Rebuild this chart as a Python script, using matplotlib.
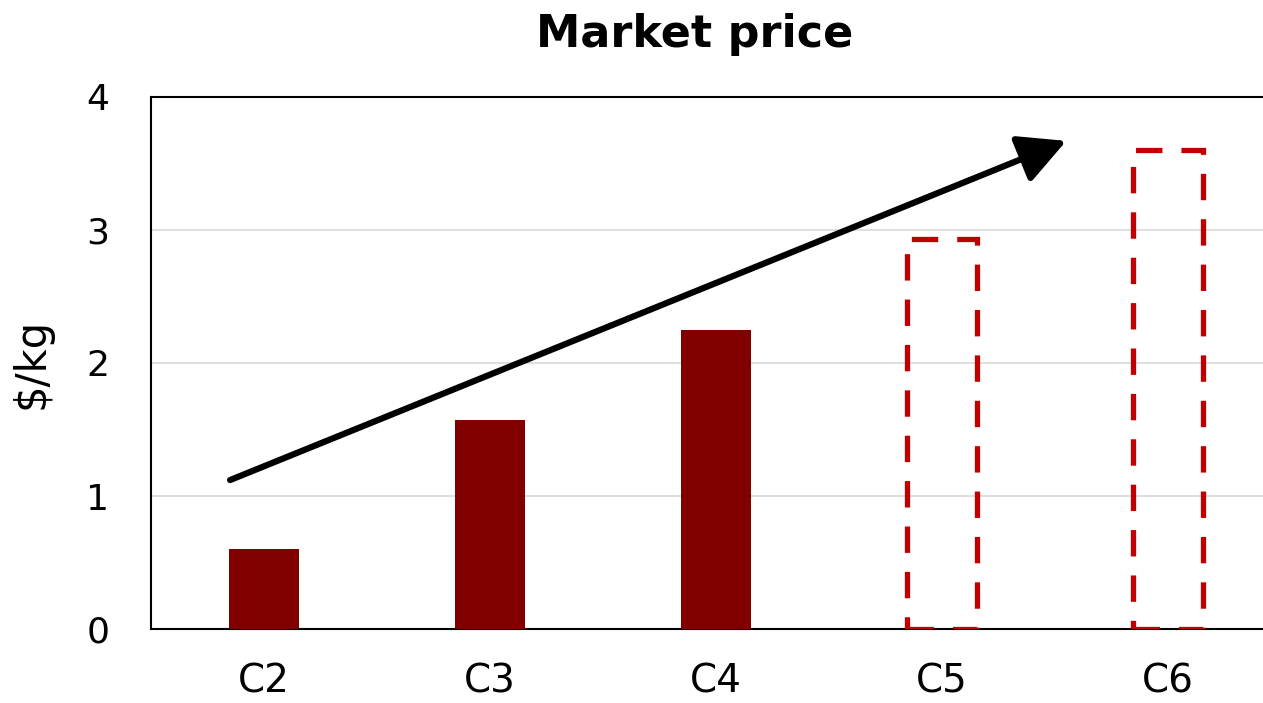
from matplotlib import pyplot as plt
import numpy as np

# data
categories = ['C2', 'C3', 'C4', 'C5', 'C6']
actual_values = [0.6, 1.57, 2.25]
projected_values = [2.93, 3.6]
y_ticks = [0, 1, 2, 3, 4]

# arrow start and end in data coords
arrow_start = (-0.15, 1.12)
arrow_end = (3.55, 3.67)

plt.rcParams['font.family'] = ['DejaVu Sans']

fig = plt.figure(figsize=(12.63, 7.03), dpi=100)
# the right edge of the plot is cropped in the reference
ax = fig.add_axes([151 / 1263, 74 / 703, 1130 / 1263, 532 / 703])

x = np.arange(len(categories))
n_act = len(actual_values)

ax.bar(x[:n_act], actual_values, width=0.31, color='#800000', zorder=3)
ax.bar(x[n_act:], projected_values, width=0.31, fill=False,
       edgecolor='#C00000', linewidth=3.8, linestyle=(0, (5.0, 3.6)), zorder=3)

ax.annotate('', xy=arrow_end, xytext=arrow_start,
            arrowprops=dict(arrowstyle='-|>,head_length=1.45,head_width=0.75',
                            mutation_scale=20, color='black', lw=4.5,
                            shrinkA=0, shrinkB=0),
            zorder=4)

ax.set_xlim(-0.5, 4.5)
ax.set_ylim(0, 4)
ax.set_yticks(y_ticks)
ax.set_xticks(x)
ax.set_xticklabels(categories)
ax.tick_params(axis='both', length=0)
ax.tick_params(axis='y', pad=30, labelsize=26)
ax.tick_params(axis='x', pad=24, labelsize=28)
ax.grid(axis='y', color='#d9d9d9', linewidth=1.2, zorder=0)

for side in ['left', 'bottom', 'top']:
    ax.spines[side].set_color('black')
    ax.spines[side].set_linewidth(1.5)
ax.spines['right'].set_visible(False)

ax.set_ylabel('$/kg', fontsize=30, labelpad=24)
fig.text(695 / 1263, 1 - 35 / 703, 'Market price', fontsize=32, fontweight='bold',
         ha='center', va='center')

fig.savefig('out.png', dpi=100)
